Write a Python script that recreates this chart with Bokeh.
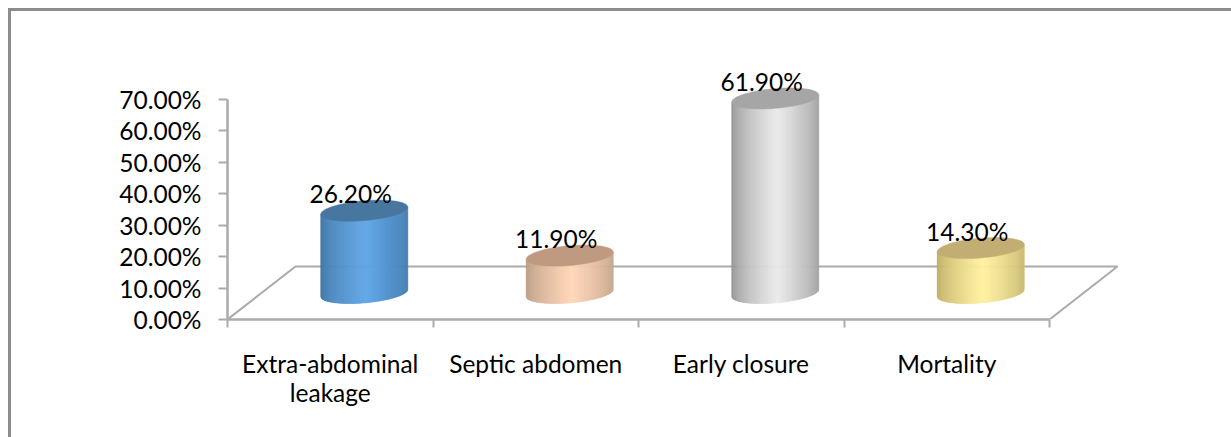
import math
from bokeh.plotting import figure
from bokeh.embed import file_html
from bokeh.resources import INLINE
from bokeh.models import Range1d, FixedTicker, InlineStyleSheet
from bokeh.core.properties import value

# data
categories = ["Extra-abdominal\nleakage", "Septic abdomen", "Early closure", "Mortality"]
values = [26.2, 11.9, 61.9, 14.3]
y_ticks = [0, 10, 20, 30, 40, 50, 60, 70]
y_tick_labels = ["0.00%", "10.00%", "20.00%", "30.00%", "40.00%", "50.00%", "60.00%", "70.00%"]

# style
edge_cols = ["#3b6f9f", "#b3977f", "#8c8c8c", "#b9a661"]
mid_cols = ["#60a6e6", "#ffd6b8", "#ebebeb", "#fff2a0"]
top_cols = ["#47779f", "#bf9a80", "#a6a6a6", "#c2ae72"]
AXIS = "#ababab"
FONT = "Lato"
FS = "24.5px"
PX_X = 205.5       # px per category
PX_Y = 220 / 70    # px per percent
DX = 34 / PX_X     # half depth of the floor
DY = 26.5 / PX_Y
A = 43.5 / PX_X
B = 9.9 / PX_Y
K = 3.6 / PX_Y

W, H = 1231, 437
L, T, R, Bm = 227, 19, 103, 118
fw, fh = W - L - R, H - T - Bm

p = figure(width=W, height=H, output_backend="svg", toolbar_location=None,
           x_range=Range1d(0, fw / PX_X), y_range=Range1d(0, fh / PX_Y),
           min_border_left=L, min_border_right=R, min_border_top=T, min_border_bottom=Bm,
           outline_line_color=None, background_fill_color="white", border_fill_color="white")
p.grid.visible = False
p.stylesheets = [InlineStyleSheet(css=":host::before{content:'';position:absolute;left:8px;top:8px;right:0;bottom:0;"
                                      "border-left:3px solid #8c8c8c;border-top:3px solid #8c8c8c;"
                                      "z-index:10;pointer-events:none}")]

ya = p.yaxis[0]
ya.ticker = FixedTicker(ticks=y_ticks)
ya.major_label_overrides = {t: s for t, s in zip(y_ticks, y_tick_labels)}
ya.bounds = (0, 70)
ya.axis_line_color = AXIS
ya.axis_line_width = 2.5
ya.major_tick_line_color = AXIS
ya.major_tick_line_width = 2
ya.major_tick_out = 9
ya.major_tick_in = 0
ya.minor_tick_line_color = None
ya.major_label_standoff = 17
ya.major_label_text_font = FONT
ya.major_label_text_font_size = FS
ya.major_label_text_color = "black"

xa = p.xaxis[0]
centers = [i + 0.5 for i in range(len(values))]
edges = list(range(len(values) + 1))
xa.ticker = FixedTicker(ticks=centers, minor_ticks=edges)
xa.major_label_overrides = {c: s for c, s in zip(centers, categories)}
xa.bounds = (0, len(values))
xa.axis_line_color = AXIS
xa.axis_line_width = 2.5
xa.major_tick_line_color = None
xa.minor_tick_line_color = AXIS
xa.minor_tick_line_width = 2
xa.minor_tick_out = 8
xa.minor_tick_in = 0
xa.major_label_standoff = 21
xa.major_label_text_font = FONT
xa.major_label_text_font_size = FS
xa.major_label_text_color = "black"
xa.major_label_text_line_height = 1.0

# floor
n = len(values)
p.line([0, 2 * DX, n + 2 * DX, n], [0, 2 * DY, 2 * DY, 0], line_color=AXIS, line_width=2)

def lerp(c1, c2, t):
    a = [int(c1[i:i + 2], 16) for i in (1, 3, 5)]
    b = [int(c2[i:i + 2], 16) for i in (1, 3, 5)]
    return "#%02x%02x%02x" % tuple(round(x + (y - x) * t) for x, y in zip(a, b))

STRIPS = 88
for i, v in enumerate(values):
    cx = centers[i] + DX
    xs, ys, cols = [], [], []
    for j in range(STRIPS):
        u0 = -1 + 2 * j / STRIPS
        u1 = -1 + 2 * (j + 1) / STRIPS
        us = [u0 + (u1 - u0) * s / 3 for s in range(4)]
        low = [DY - B * math.sqrt(max(0, 1 - u * u)) + K * u for u in us]
        hi = [DY + v + K * u for u in us]
        xs.append([cx + A * u for u in us] + [cx + A * u for u in reversed(us)])
        ys.append(low + list(reversed(hi)))
        m = (u0 + u1) / 2
        t = max(0, 1 - abs(m - 0.05) / 1.05) ** 0.6
        cols.append(lerp(edge_cols[i], mid_cols[i], t))
    p.patches(xs, ys, fill_color=cols, line_color=cols, line_width=0.6)
    th = [2 * math.pi * k / 72 for k in range(72)]
    p.patch([cx + A * math.cos(a) for a in th],
            [DY + v + B * math.sin(a) + K * math.cos(a) for a in th],
            fill_color=top_cols[i], line_color=top_cols[i], line_width=0.5)
    p.text([cx], [DY + v], text=[f"{v:.2f}%"], text_font=value(FONT), text_font_size=FS,
           text_color="black", text_align="center", text_baseline="alphabetic",
           x_offset=-13.5, y_offset=-17)

open("out.html", "w").write(file_html(p, INLINE))
